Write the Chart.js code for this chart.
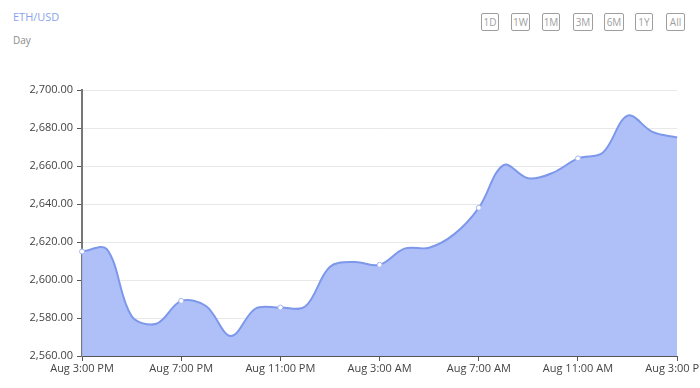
<!DOCTYPE html>
<html>
<head>
<meta charset="utf-8">
<script src="https://cdn.jsdelivr.net/npm/chart.js@4"></script>
<style>
    html, body { margin: 0; padding: 0; background: #fff; overflow: hidden; width: 700px; height: 388px; }
    body { position: relative; font-family: "Open Sans", "Noto Sans", sans-serif; }
    .title { position: absolute; left: 13px; top: 9px; font-size: 11px; color: #8aa3ea; }
    .subtitle { position: absolute; left: 13px; top: 33px; font-size: 10px; color: #8a8a8a; }
    .range-buttons { position: absolute; top: 13px; left: 0; }
    .range-buttons span {
        position: absolute; top: 0; height: 16px; line-height: 16px;
        border: 1px solid #9e9e9e; border-radius: 2px;
        font-size: 10px; color: #a0a0a0; text-align: center;
    }
    .chart-wrap { position: absolute; left: 0; top: 0; width: 710px; height: 388px; }
</style>
</head>
<body>
<div class="title">ETH/USD</div>
<div class="subtitle">Day</div>
<div class="range-buttons" id="rangeButtons"></div>
<div class="chart-wrap"><canvas id="priceChart"></canvas></div>
<script>
// Hourly time labels, Aug 3:00 PM -> Aug 3:00 PM next day
const timeLabels = [
    'Aug 3:00 PM', 'Aug 4:00 PM', 'Aug 5:00 PM', 'Aug 6:00 PM', 'Aug 7:00 PM',
    'Aug 8:00 PM', 'Aug 9:00 PM', 'Aug 10:00 PM', 'Aug 11:00 PM', 'Aug 12:00 AM',
    'Aug 1:00 AM', 'Aug 2:00 AM', 'Aug 3:00 AM', 'Aug 4:00 AM', 'Aug 5:00 AM',
    'Aug 6:00 AM', 'Aug 7:00 AM', 'Aug 8:00 AM', 'Aug 9:00 AM', 'Aug 10:00 AM',
    'Aug 11:00 AM', 'Aug 12:00 PM', 'Aug 1:00 PM', 'Aug 2:00 PM', 'Aug 3:00 PM'
];

// ETH/USD price per hour
const priceValues = [
    2615.0, 2616.2, 2581.0, 2577.0, 2589.0,
    2586.3, 2570.5, 2585.0, 2585.5, 2586.0,
    2607.0, 2609.5, 2608.0, 2616.5, 2617.0,
    2624.0, 2638.0, 2660.5, 2653.5, 2656.5,
    2664.0, 2667.0, 2686.5, 2678.0, 2675.0
];

// Every 4th hour gets an axis label and a marker
const labelEvery = 4;

const yMin = 2560;
const yMax = 2700;
const yStep = 20;

const rangeButtons = [
    { text: '1D', left: 481, width: 16 },
    { text: '1W', left: 511, width: 17 },
    { text: '1M', left: 542, width: 16 },
    { text: '3M', left: 573, width: 18 },
    { text: '6M', left: 604, width: 18 },
    { text: '1Y', left: 635, width: 16 },
    { text: 'All', left: 666, width: 17 }
];

// Build the range buttons
const buttonBox = document.getElementById('rangeButtons');
rangeButtons.forEach(b => {
    const el = document.createElement('span');
    el.textContent = b.text;
    el.style.left = b.left + 'px';
    el.style.width = b.width + 'px';
    buttonBox.appendChild(el);
});

const axisColor = '#555';
const tickFont = { family: '"Open Sans", "Noto Sans", sans-serif', size: 11 };

const ctx = document.getElementById('priceChart').getContext('2d');
const priceChart = new Chart(ctx, {
    type: 'line',
    data: {
        labels: timeLabels,
        datasets: [{
            label: 'ETH/USD',
            data: priceValues,
            borderColor: '#7d98ea',
            borderWidth: 2,
            backgroundColor: 'rgba(168, 187, 248, 0.92)',
            fill: 'start',
            tension: 0.35,
            pointRadius: c => (c.dataIndex % labelEvery === 0 && c.dataIndex < priceValues.length - 1) ? 2.5 : 0,
            pointBackgroundColor: '#ffffff',
            pointBorderColor: '#a3b6f0',
            pointBorderWidth: 1
        }]
    },
    options: {
        responsive: true,
        maintainAspectRatio: false,
        animation: false,
        layout: {
            padding: { top: 90, left: 0, right: 0, bottom: 0 }
        },
        plugins: {
            legend: { display: false },
            tooltip: { enabled: false }
        },
        scales: {
            x: {
                grid: {
                    drawOnChartArea: false,
                    tickLength: 5,
                    tickColor: axisColor
                },
                border: { color: axisColor },
                ticks: {
                    autoSkip: false,
                    maxRotation: 0,
                    padding: 1,
                    color: '#444',
                    font: tickFont,
                    callback: function (value, index) {
                        return index % labelEvery === 0 ? this.getLabelForValue(value) : null;
                    }
                },
                afterFit: scale => { scale.height = 32; }
            },
            y: {
                min: yMin,
                max: yMax,
                grid: {
                    color: '#e8e8e8',
                    tickLength: 5,
                    tickColor: axisColor
                },
                border: { color: '#777', width: 2 },
                ticks: {
                    stepSize: yStep,
                    padding: 4,
                    color: '#444',
                    font: tickFont,
                    callback: v => v.toLocaleString('en-US', { minimumFractionDigits: 2, maximumFractionDigits: 2 })
                },
                afterFit: scale => { scale.width = 82; }
            }
        }
    }
});
</script>
</body>
</html>
